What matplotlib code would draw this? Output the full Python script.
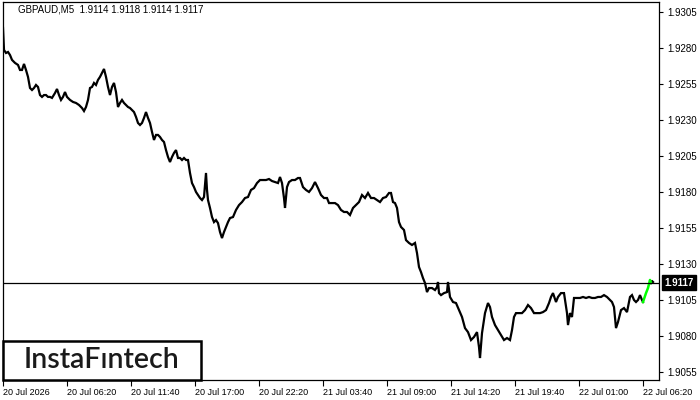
import matplotlib
matplotlib.use("Agg")
import matplotlib.pyplot as plt
from matplotlib.patches import Rectangle

################################################################
# data (M5 bars):
bars = [3, 4, 6, 8, 10, 12, 15, 18, 20, 22, 24, 26, 28, 30, 32, 34, 36, 38, 40, 42,
        44, 46, 48, 50, 52, 55, 57, 59, 61, 63, 65, 67, 70, 73, 76, 79, 82, 84, 86, 88,
        90, 92, 94, 96, 98, 100, 102, 104, 106, 108, 110, 112, 114, 116, 118, 120, 122, 124, 126, 128,
        130, 132, 134, 136, 138, 140, 142, 144, 146, 148, 150, 152, 154, 156, 158, 160, 162, 164, 166, 168,
        170, 172, 174, 176, 178, 180, 182, 184, 186, 188, 190, 192, 194, 196, 198, 200, 202, 204, 206, 207,
        208, 210, 212, 214, 216, 218, 220, 222, 224, 226, 228, 230, 233, 236, 239, 242, 245, 248, 251, 254,
        257, 260, 263, 266, 269, 272, 275, 278, 280, 282, 284, 285, 287, 289, 292, 295, 298, 300, 303, 306,
        309, 312, 315, 318, 321, 324, 327, 329, 332, 335, 338, 341, 344, 347, 350, 353, 356, 359, 362, 365,
        368, 371, 374, 377, 380, 383, 386, 389, 391, 393, 395, 397, 399, 401, 404, 406, 409, 412, 415, 417,
        419, 421, 423, 425, 427, 429, 432, 435, 437, 438, 439, 441, 444, 447, 448, 450, 453, 456, 459, 462,
        465, 468, 471, 474, 477, 479, 480, 482, 485, 488, 490, 492, 495, 498, 501, 504, 507, 510, 512, 514,
        516, 519, 522, 525, 528, 531, 534, 537, 540, 543, 546, 549, 551, 553, 556, 558, 561, 564, 567, 568,
        570, 572, 574, 577, 580, 583, 586, 589, 592, 595, 598, 601, 604, 607, 610, 612, 614, 616, 618, 621,
        624, 627, 630, 632, 634, 636, 638, 640, 642, 643]
close = [1.92939, 1.92786, 1.92765, 1.92772, 1.92751, 1.92717, 1.92696, 1.92682, 1.92647, 1.92647,
         1.92689, 1.92647, 1.92599, 1.92522, 1.92508, 1.92522, 1.92543, 1.92529, 1.92473, 1.92460,
         1.92473, 1.92473, 1.92460, 1.92460, 1.92453, 1.92487, 1.92515, 1.92473, 1.92439, 1.92460,
         1.92494, 1.92460, 1.92439, 1.92425, 1.92418, 1.92404, 1.92383, 1.92362, 1.92390, 1.92439,
         1.92522, 1.92529, 1.92557, 1.92543, 1.92578, 1.92599, 1.92626, 1.92654, 1.92599, 1.92529,
         1.92473, 1.92529, 1.92557, 1.92494, 1.92390, 1.92418, 1.92439, 1.92418, 1.92404, 1.92390,
         1.92383, 1.92369, 1.92355, 1.92321, 1.92279, 1.92265, 1.92279, 1.92314, 1.92355, 1.92314,
         1.92279, 1.92217, 1.92161, 1.92196, 1.92196, 1.92182, 1.92161, 1.92147, 1.92091, 1.92043,
         1.92008, 1.92043, 1.92071, 1.92091, 1.92036, 1.92036, 1.92022, 1.92036, 1.92022, 1.92022,
         1.91932, 1.91862, 1.91834, 1.91800, 1.91779, 1.91758, 1.91744, 1.91765, 1.91932, 1.91814,
         1.91744, 1.91689, 1.91626, 1.91591, 1.91605, 1.91584, 1.91522, 1.91480, 1.91522, 1.91557,
         1.91591, 1.91619, 1.91626, 1.91675, 1.91709, 1.91730, 1.91758, 1.91765, 1.91814, 1.91827,
         1.91862, 1.91883, 1.91883, 1.91883, 1.91890, 1.91876, 1.91869, 1.91862, 1.91904, 1.91862,
         1.91758, 1.91689, 1.91834, 1.91869, 1.91883, 1.91883, 1.91897, 1.91897, 1.91834, 1.91814,
         1.91800, 1.91827, 1.91869, 1.91827, 1.91779, 1.91758, 1.91758, 1.91723, 1.91723, 1.91723,
         1.91709, 1.91675, 1.91661, 1.91661, 1.91640, 1.91689, 1.91709, 1.91730, 1.91779, 1.91758,
         1.91793, 1.91758, 1.91758, 1.91744, 1.91730, 1.91758, 1.91765, 1.91793, 1.91793, 1.91730,
         1.91723, 1.91689, 1.91591, 1.91557, 1.91536, 1.91466, 1.91446, 1.91432, 1.91446, 1.91376,
         1.91279, 1.91244, 1.91202, 1.91168, 1.91105, 1.91133, 1.91133, 1.91119, 1.91140, 1.91175,
         1.91098, 1.91084, 1.91098, 1.91105, 1.91175, 1.91071, 1.91036, 1.91029, 1.90980, 1.90932,
         1.90855, 1.90827, 1.90772, 1.90793, 1.90827, 1.90723, 1.90647, 1.90820, 1.90959, 1.91029,
         1.91001, 1.90932, 1.90876, 1.90841, 1.90807, 1.90772, 1.90786, 1.90772, 1.90841, 1.90932,
         1.90959, 1.90959, 1.90959, 1.90980, 1.91015, 1.90994, 1.90959, 1.90959, 1.90959, 1.90966,
         1.90980, 1.91029, 1.91071, 1.91098, 1.91036, 1.91071, 1.91098, 1.91098, 1.90959, 1.90876,
         1.90959, 1.90932, 1.91064, 1.91064, 1.91064, 1.91071, 1.91064, 1.91071, 1.91064, 1.91064,
         1.91071, 1.91071, 1.91084, 1.91071, 1.91050, 1.91036, 1.91001, 1.90855, 1.90897, 1.90980,
         1.90994, 1.90966, 1.91071, 1.91084, 1.91050, 1.91036, 1.91050, 1.91084, 1.91050, 1.91036]
# last bars, highlighted in green
green_bars = [643, 646, 648, 650, 651]
green_close = [1.91036, 1.91098, 1.91133, 1.91189, 1.91168]
tail_bars = [651, 652, 653]
tail_close = [1.91168, 1.91182, 1.91175]

last_price = 1.9117
header = "GBPAUD,M5  1.9114 1.9118 1.9114 1.9117"
price_ticks = [1.9055, 1.9080, 1.9105, 1.9130, 1.9155, 1.9180, 1.9205, 1.9230, 1.9255, 1.9280, 1.9305]
time_ticks = [3, 67, 131, 195, 259, 323, 387, 451, 515, 579, 643]
time_labels = ["20 Jul 2026", "20 Jul 06:20", "20 Jul 11:40", "20 Jul 17:00", "20 Jul 22:20",
               "21 Jul 03:40", "21 Jul 09:00", "21 Jul 14:20", "21 Jul 19:40", "22 Jul 01:00",
               "22 Jul 06:20"]

################################################################
# plot:
plt.rcParams['font.family'] = ['Liberation Sans', 'DejaVu Sans']
fig = plt.figure(figsize=(7, 4), dpi=100)
ax = fig.add_axes([2.5 / 700, 20.5 / 400, 656.5 / 700, 377.5 / 400])

ax.plot(bars, close, color='black', linewidth=1.6, solid_joinstyle='miter')
ax.plot(tail_bars, tail_close, color='black', linewidth=1.6)
ax.plot(green_bars, green_close, color='#00ff00', linewidth=1.8)
ax.axhline(last_price, color='black', linewidth=0.9)

ax.set_xlim(2.5, 659)
ax.set_ylim(1.90498, 1.93119)

ax.yaxis.tick_right()
ax.set_yticks(price_ticks)
ax.set_yticklabels(["%.4f" % p for p in price_ticks], fontsize=7)
ax.tick_params(axis='y', direction='out', length=3, width=0.8, pad=3)
ax.set_xticks(time_ticks)
ax.set_xticklabels(time_labels, fontsize=6.5, ha='left')
ax.tick_params(axis='x', direction='out', length=4, width=0.8, pad=2)
for s in ax.spines.values():
    s.set_linewidth(0.9)

# current price box
ax.text(1.008, last_price, "1.9117", transform=ax.get_yaxis_transform(), fontsize=7,
        color='white', fontweight='bold', va='center', ha='left',
        bbox=dict(boxstyle='square,pad=0.25', facecolor='black', edgecolor='black'))

fig.text(18 / 700, 1 - 10 / 400, header, fontsize=7, va='center', ha='left')

# logo
fig.patches.append(Rectangle((3 / 700, 20.5 / 400), 198 / 700, 38.5 / 400, transform=fig.transFigure,
                             facecolor='white', edgecolor='black', linewidth=1.8, zorder=5))
fig.text(101 / 700, 1 - 360 / 400, "InstaF\u0131ntech", fontsize=20.5, family='Lato',
         fontweight='semibold', color='#1a1a1a', ha='center', va='center', zorder=6)

fig.savefig("out.png", dpi=100)
plt.close()
